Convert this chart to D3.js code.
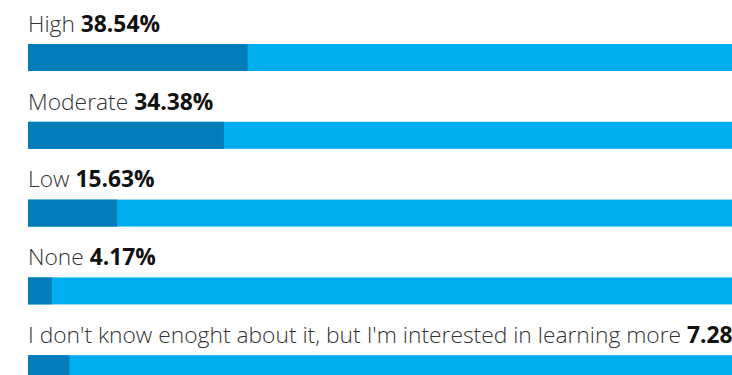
<!DOCTYPE html>
<meta charset="utf-8">
<style>
	body {
		margin: 0;
		padding: 0;
		overflow: hidden;
		background: #ffffff;
		font-family: 'Open Sans', sans-serif;
	}
	.label {
		font-weight: 300;
		fill: #333333;
		font-size: 22.8px;
	}
	.value {
		font-weight: 700;
		fill: #111111;
	}
	.track { fill: #00aeef; }
	.fill { fill: #007db8; }
</style>
<body>
<svg class="chart"></svg>
<script src="https://d3js.org/d3.v7.min.js"></script>
<script>

var categories = ["High", "Moderate", "Low", "None",
	"I don't know enoght about it, but I'm interested in learning more"];

var values = [38.54, 34.38, 15.63, 4.17, 7.28];

var width = 732, height = 375;
var margin = {top: 44, left: 28};
var rowStep = 77.8, barHeight = 27;

var x = d3.scaleLinear()
	.domain([0, 100])
	.range([0, 570]);

var y = d3.scaleLinear()
	.domain([0, 1])
	.range([margin.top, margin.top + rowStep]);

var svg = d3.select(".chart")
	.attr("width", width)
	.attr("height", height);

var rows = svg.selectAll(".row")
	.data(values)
  .enter().append("g")
	.attr("class", "row")
	.attr("transform", function (d, i) { return "translate(" + margin.left + "," + y(i) + ")"; });

// full track runs off the right edge, like the original
rows.append("rect")
	.attr("class", "track")
	.attr("width", width)
	.attr("height", barHeight);

rows.append("rect")
	.attr("class", "fill")
	.attr("width", function (d) { return x(d); })
	.attr("height", barHeight);

var txt = rows.append("text")
	.attr("class", "label")
	.attr("y", -12.3);

txt.append("tspan")
	.text(function (d, i) { return categories[i] + " "; });

txt.append("tspan")
	.attr("class", "value")
	.text(function (d) { return d.toFixed(2) + "%"; });

</script>
</body>
